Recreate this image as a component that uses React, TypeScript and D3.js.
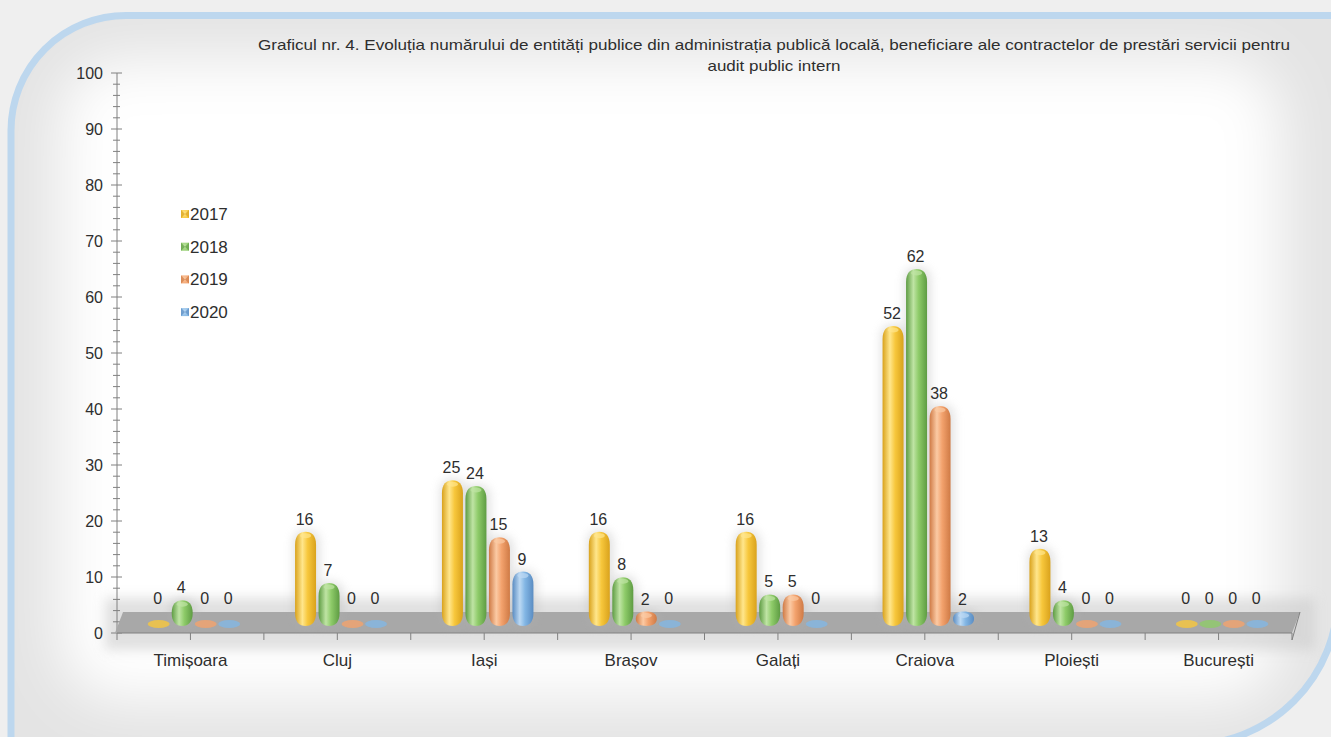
import React from 'react';
import * as d3 from 'd3';

const categories = ['Timișoara', 'Cluj', 'Iași', 'Brașov', 'Galați', 'Craiova', 'Ploiești', 'București'];
const years = ['2017', '2018', '2019', '2020'];
const values2017 = [0, 16, 25, 16, 16, 52, 13, 0];
const values2018 = [4, 7, 24, 8, 5, 62, 4, 0];
const values2019 = [0, 0, 15, 2, 5, 38, 0, 0];
const values2020 = [0, 0, 9, 0, 0, 2, 0, 0];
const yTicks = [0, 10, 20, 30, 40, 50, 60, 70, 80, 90, 100];
const titleLine1 = 'Graficul nr. 4. Evoluția numărului  de entități publice din administrația publică locală, beneficiare ale contractelor de prestări servicii pentru';
const titleLine2 = 'audit public intern';

const seriesValues = [values2017, values2018, values2019, values2020];
const palette = [
  { base: '#f7c73c', light: '#ffe68c', dark: '#d9a21c' },
  { base: '#8ecb69', light: '#bfe4a4', dark: '#5e9c43' },
  { base: '#f3a26d', light: '#fbcaa4', dark: '#cf7a45' },
  { base: '#82b6e4', light: '#bcd9f3', dark: '#5a8cc2' },
];

const W = 1331;
const H = 737;
const FONT = '"Liberation Sans", Arial, sans-serif';
const TEXT = '#2e2e2e';

function spindle(cx: number, top: number, bottom: number, w: number) {
  const r = w / 2;
  const cap = Math.min(13, (bottom - top) / 2);
  return [
    `M ${cx - r} ${top + cap}`,
    `C ${cx - r} ${top + cap * 0.3} ${cx - r * 0.6} ${top} ${cx} ${top}`,
    `C ${cx + r * 0.6} ${top} ${cx + r} ${top + cap * 0.3} ${cx + r} ${top + cap}`,
    `L ${cx + r} ${bottom - cap}`,
    `C ${cx + r} ${bottom - cap * 0.3} ${cx + r * 0.6} ${bottom} ${cx} ${bottom}`,
    `C ${cx - r * 0.6} ${bottom} ${cx - r} ${bottom - cap * 0.3} ${cx - r} ${bottom - cap}`,
    'Z',
  ].join(' ');
}

export default function App() {
  const axisX = 117;
  const axisRight = 1292;
  const x = d3.scaleBand<string>().domain(categories).range([axisX, axisRight]);
  const xi = d3.scaleBand<string>().domain(years).range([-47, 47]);
  const yAxis = d3.scaleLinear().domain([0, 100]).range([633, 73]);
  const yBar = d3.scaleLinear().domain([0, 100]).range([624, 53]);
  const minorTicks = d3.range(0, 101, 2);
  const nX = categories.length * 2;
  const xTickPos = d3.range(nX + 1).map((i) => axisX + (i * (axisRight - axisX)) / nX);
  const barW = 21;
  const base = 626;

  const framePath = `M 11 745 L 11 ${15.5 + 115} A 115 115 0 0 1 ${11 + 115} 15.5 L 1338 15.5 L 1338 ${745 - 150} A 150 150 0 0 1 ${1338 - 150} 745 Z`;

  const barX = (c: string, yr: string) =>
    (x(c) as number) + x.bandwidth() / 2 + 3.5 + (xi(yr) as number) + xi.bandwidth() / 2;

  return (
    <svg width={W} height={H} style={{ position: 'absolute', left: 0, top: 0, display: 'block' }} fontFamily={FONT}>
      <defs>
        {palette.map((p, i) => (
          <linearGradient key={i} id={`g${i}`} x1="0" x2="1" y1="0" y2="0">
            <stop offset="0" stopColor={p.dark} />
            <stop offset="0.35" stopColor={p.light} />
            <stop offset="0.6" stopColor={p.base} />
            <stop offset="1" stopColor={p.dark} />
          </linearGradient>
        ))}
        {palette.map((p, i) => (
          <radialGradient key={i} id={`r${i}`} cx="0.4" cy="0.4" r="0.7">
            <stop offset="0" stopColor={p.light} />
            <stop offset="1" stopColor={p.base} />
          </radialGradient>
        ))}
        <filter id="blur30" x="-20%" y="-20%" width="140%" height="140%">
          <feGaussianBlur stdDeviation="28" />
        </filter>
        <filter id="blur6" x="-20%" y="-100%" width="140%" height="300%">
          <feGaussianBlur stdDeviation="6" />
        </filter>
        <filter id="blur4" x="-100%" y="-20%" width="300%" height="140%">
          <feGaussianBlur stdDeviation="5" />
        </filter>
        <clipPath id="frameClip">
          <path d={framePath} />
        </clipPath>
      </defs>

      {/* background */}
      <rect x={0} y={0} width={W} height={H} fill="#efefef" />
      <g clipPath="url(#frameClip)">
        <rect x={0} y={0} width={W} height={H} fill="#e4e4e4" />
        <rect x={60} y={60} width={1220} height={640} rx={60} fill="#ffffff" filter="url(#blur30)" />
      </g>
      <path d={framePath} fill="none" stroke="#bdd7ee" strokeWidth={7} />

      {/* title */}
      <text x={774} y={50} textAnchor="middle" fontSize={15} fill={TEXT} textLength={1032} lengthAdjust="spacingAndGlyphs">
        {titleLine1}
      </text>
      <text x={774} y={71} textAnchor="middle" fontSize={15} fill={TEXT} textLength={133} lengthAdjust="spacingAndGlyphs">
        {titleLine2}
      </text>

      {/* floor shadow */}
      <rect x={105} y={598} width={1210} height={52} fill="#cccccc" opacity={0.6} filter="url(#blur6)" />

      {/* y axis */}
      <line x1={axisX} x2={axisX} y1={yAxis(100)} y2={yAxis(0)} stroke="#808080" strokeWidth={1} />
      {minorTicks.map((t) => (
        <line key={t} x1={axisX - (t % 10 === 0 ? 6 : 4)} x2={axisX + (t % 10 === 0 ? 5 : 3)} y1={yAxis(t)} y2={yAxis(t)} stroke="#808080" strokeWidth={1} />
      ))}
      {yTicks.map((t) => (
        <text key={t} x={103} y={yAxis(t) + 6} textAnchor="end" fontSize={16} fill={TEXT}>
          {t}
        </text>
      ))}

      {/* floor */}
      <polygon points={`123,612 1300,612 ${axisRight},633 115,633`} fill="#a8a8a8" />
      <line x1={axisX} x2={axisRight} y1={633} y2={633} stroke="#808080" strokeWidth={1} />
      {xTickPos.map((p, i) => (
        <line key={i} x1={p} x2={p} y1={633} y2={640} stroke="#808080" strokeWidth={1} />
      ))}
      <line x1={1300} x2={axisRight} y1={612} y2={640} stroke="#808080" strokeWidth={1} />

      {/* bar glows */}
      {categories.map((c, ci) =>
        years.map((yr, si) => {
          const v = seriesValues[si][ci];
          if (v === 0) return null;
          const cx = barX(c, yr);
          const top = yBar(v) - 1;
          return <path key={`${c}-${yr}-s`} d={spindle(cx + 1, top - 2, base + 2, barW + 6)} fill="#b0b0b0" opacity={0.35} filter="url(#blur4)" />;
        })
      )}

      {/* bars */}
      {categories.map((c, ci) => (
        <g key={c}>
          {years.map((yr, si) => {
            const v = seriesValues[si][ci];
            const cx = barX(c, yr);
            if (v === 0) {
              return <ellipse key={yr} cx={cx} cy={624} rx={11} ry={4} fill={palette[si].base} opacity={0.8} />;
            }
            const top = yBar(v) - 1;
            const h = base - top;
            return (
              <g key={yr}>
                <path d={spindle(cx, top, base, barW)} fill={`url(#g${si})`} />
                <ellipse cx={cx} cy={top + Math.min(4, h / 3)} rx={barW / 2 - 5} ry={Math.min(2.5, h / 5)} fill={palette[si].light} opacity={0.7} />
              </g>
            );
          })}
          {years.map((yr, si) => {
            const v = seriesValues[si][ci];
            const cx = barX(c, yr);
            const top = v === 0 ? 612 : yBar(v);
            return (
              <text key={yr} x={cx - 1} y={top - 8} textAnchor="middle" fontSize={16} fill={TEXT}>
                {v}
              </text>
            );
          })}
        </g>
      ))}

      {/* x labels */}
      {categories.map((c) => (
        <text key={c} x={(x(c) as number) + x.bandwidth() / 2} y={666} textAnchor="middle" fontSize={17} fill={TEXT}>
          {c}
        </text>
      ))}

      {/* legend */}
      {years.map((yr, si) => {
        const cy = 214 + si * 32.7;
        return (
          <g key={yr}>
            <rect x={181} y={cy - 4} width={8} height={8} fill={`url(#r${si})`} />
            <path d={`M ${181} ${cy - 4} L ${185} ${cy} L ${181} ${cy + 4} Z`} fill={palette[si].dark} opacity={0.7} />
            <path d={`M ${189} ${cy - 4} L ${185} ${cy} L ${189} ${cy + 4} Z`} fill={palette[si].dark} opacity={0.7} />
            <text x={190} y={cy + 6} fontSize={17} fill={TEXT}>
              {yr}
            </text>
          </g>
        );
      })}
    </svg>
  );
}
